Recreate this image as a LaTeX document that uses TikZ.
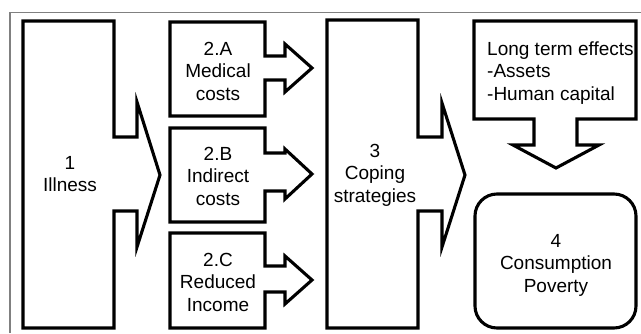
\documentclass[tikz,border=0pt]{standalone}
\usepackage{fontspec}
\setmainfont{Liberation Sans}
\tikzset{
    outline/.style={draw=black, line width=3.1pt, line join=miter},
    lbl/.style={font=\fontsize{19}{22.5}\selectfont, align=center, inner sep=0pt}
}
\begin{document}
\begin{tikzpicture}[x=1pt, y=-1pt]
        \useasboundingbox (0,0) rectangle (641,333);
        \draw[black!50, line width=1.5pt] (10,333) -- (10,12.5) -- (641,12.5);

        % 1 Illness
        \draw[outline] (23,21) -- (114,21) -- (114,137) -- (137,137) -- (137,102) -- (160,175)
            -- (137,247) -- (137,211) -- (114,211) -- (114,328) -- (23,328) -- cycle;
        \node[lbl] (illness) at (70,174) {1\\Illness};

        % 2.A, 2.B, 2.C
        \draw[outline] (170,22) -- (265,22) -- (265,56) -- (285,56) -- (285,44) -- (312,68)
            -- (285,92) -- (285,80) -- (265,80) -- (265,116) -- (170,116) -- cycle;
        \draw[outline] (170,128) -- (265,128) -- (265,153) -- (285,153) -- (285,149) -- (312,174)
            -- (285,199) -- (285,191) -- (265,191) -- (265,222) -- (170,222) -- cycle;
        \draw[outline] (170,233) -- (265,233) -- (265,266) -- (285,266) -- (285,256) -- (312,280)
            -- (285,304) -- (285,292) -- (265,292) -- (265,328) -- (170,328) -- cycle;
        \node[lbl] (medical) at (218,71) {2.A\\Medical\\costs};
        \node[lbl] (indirect) at (218,176) {2.B\\Indirect\\costs};
        \node[lbl] (reduced) at (218,282) {2.C\\Reduced\\Income};

        % 3 Coping strategies
        \draw[outline] (327,20) -- (418,20) -- (418,137) -- (442,137) -- (442,103) -- (465,175)
            -- (442,247) -- (442,211) -- (418,211) -- (418,328) -- (327,328) -- cycle;
        \node[lbl] (coping) at (375,175) {3\\Coping\\strategies};

        % long term effects
        \draw[outline] (474,21) -- (636,21) -- (636,119) -- (577,119) -- (577,145) -- (599,145)
            -- (556,168) -- (513,145) -- (534,145) -- (534,119) -- (474,119) -- cycle;
        \node[lbl, align=left, anchor=west] (longterm) at (487,73) {Long term effects\\-Assets\\-Human capital};

        % 4 Consumption poverty
        \draw[outline, rounded corners=22pt] (475,194) rectangle (636,328);
        \node[lbl] (poverty) at (556,265) {4\\Consumption\\Poverty};
    \end{tikzpicture}
\end{document}
